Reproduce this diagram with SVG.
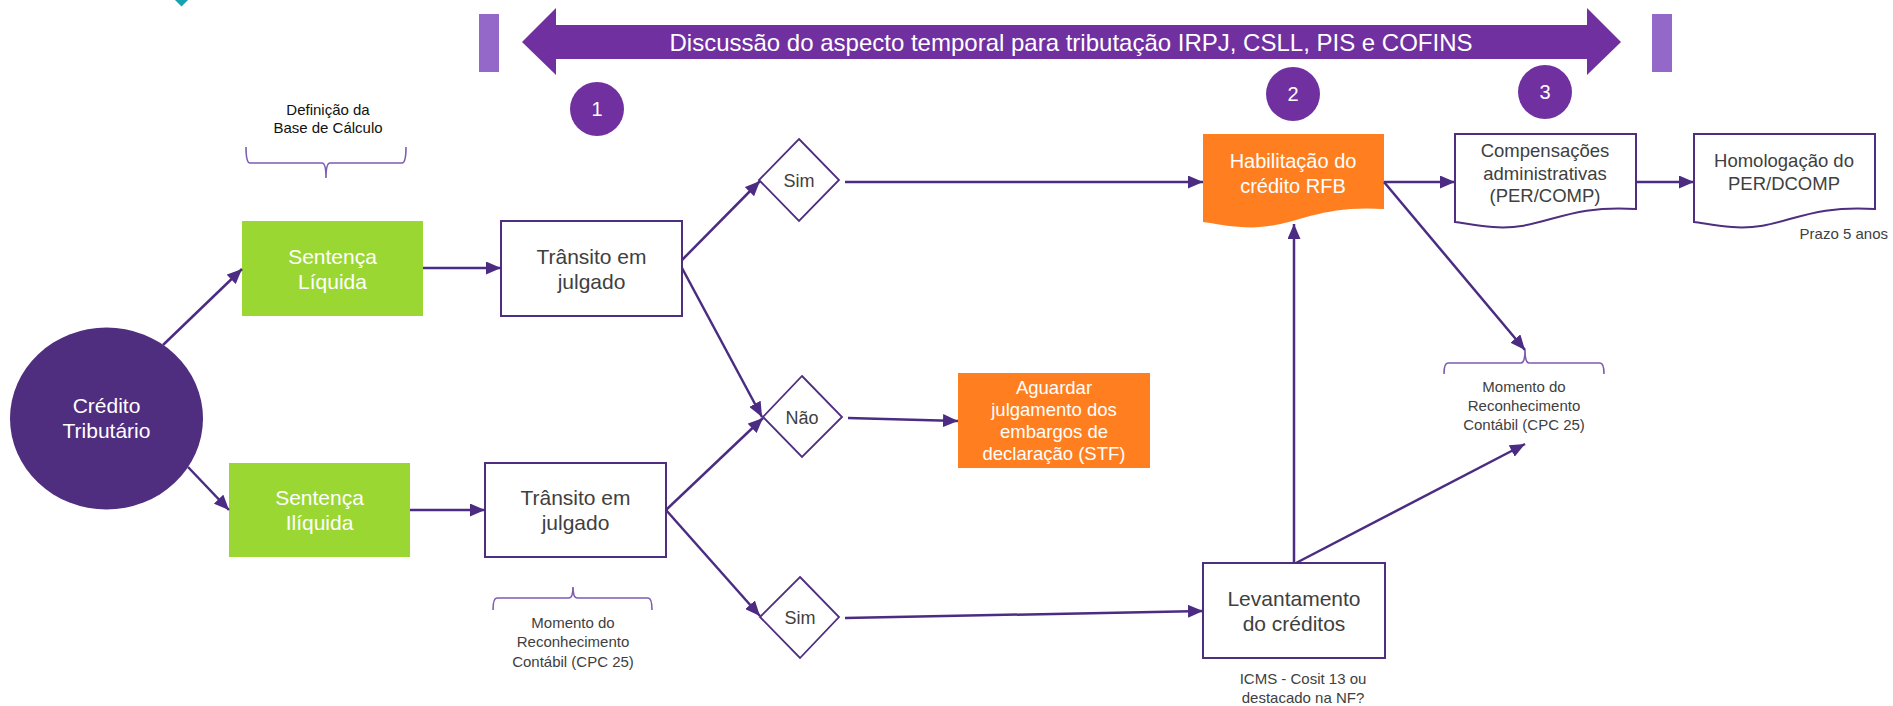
<svg xmlns="http://www.w3.org/2000/svg" width="1893" height="706" viewBox="0 0 1893 706">
<style>
text{font-family:"Liberation Sans",Arial,sans-serif;text-anchor:middle}
.w{fill:#ffffff}
.g{fill:#404040}
.k{fill:#111111}
.box{fill:#ffffff;stroke:#4F2D7F;stroke-width:2}
.dia{fill:#ffffff;stroke:#4F2D7F;stroke-width:1.8}
.green{fill:#9BD733}
.orange{fill:#FF7F20}
.num{fill:#7030A0}
.bar{fill:#9368C8}
.brace{fill:none;stroke:#7E5BB0;stroke-width:1.6}
.con{fill:none;stroke:#4B2C82;stroke-width:2.5;marker-end:url(#ah)}
.f21{font-size:21px}
.f20{font-size:20px}
.f185{font-size:18.5px}
.f18{font-size:18px}
.f15{font-size:15px}
</style>
<defs>
<marker id="ah" markerUnits="userSpaceOnUse" markerWidth="15" markerHeight="13" refX="15" refY="6.5" orient="auto">
<path d="M0,0 L15,6.5 L0,13 Z" fill="#4B2C82"/>
</marker>
<path id="doc" d="M0,0 H181 V75 C108,70 88,97 38,93 C21,92 9,89 0,88 Z"/>
</defs>
<rect width="1893" height="706" fill="#ffffff"/>

<polygon points="175,0 188,0 181.5,6.5" fill="#17A2AE"/>

<g id="timeline">
<rect class="bar" x="479" y="14" width="20" height="58"/>
<rect class="bar" x="1652" y="14" width="20" height="58"/>
<polygon fill="#7030A0" points="522,42 556,8 556,25 1587,25 1587,8 1621,42 1587,75 1587,59 556,59 556,75"/>
<text class="w" x="1071" y="51" style="font-size:24px">Discussão do aspecto temporal para tributação IRPJ, CSLL, PIS e COFINS</text>
</g>

<g id="n1"><circle class="num" cx="597" cy="109" r="27"/><text class="w f20" x="597" y="116">1</text></g>
<g id="n2"><circle class="num" cx="1293" cy="94" r="27"/><text class="w f20" x="1293" y="101">2</text></g>
<g id="n3"><circle class="num" cx="1545" cy="92" r="27"/><text class="w f20" x="1545" y="99">3</text></g>

<g id="definicao">
<text class="k f15" x="328" y="115">Definição da</text>
<text class="k f15" x="328" y="133">Base de Cálculo</text>
<path class="brace" d="M246,147 Q246,163 250,163 H322 Q326,163 326,178 Q326,163 330,163 H402 Q406,163 406,147"/>
</g>

<g id="credito">
<ellipse cx="106.5" cy="418.5" rx="96.5" ry="91" fill="#4F2D7F"/>
<text class="w f21" x="106.5" y="413">Crédito</text>
<text class="w f21" x="106.5" y="438">Tributário</text>
</g>

<g id="sentenca-liquida">
<rect class="green" x="242" y="221" width="181" height="95"/>
<text class="w f21" x="332.5" y="264">Sentença</text>
<text class="w f21" x="332.5" y="289">Líquida</text>
</g>

<g id="sentenca-iliquida">
<rect class="green" x="229" y="463" width="181" height="94"/>
<text class="w f21" x="319.5" y="505">Sentença</text>
<text class="w f21" x="319.5" y="530">Ilíquida</text>
</g>

<g id="transito1">
<rect class="box" x="501" y="221" width="181" height="95"/>
<text class="g f21" x="591.5" y="263.5">Trânsito em</text>
<text class="g f21" x="591.5" y="288.5">julgado</text>
</g>

<g id="transito2">
<rect class="box" x="485" y="463" width="181" height="94"/>
<text class="g f21" x="575.5" y="505">Trânsito em</text>
<text class="g f21" x="575.5" y="530">julgado</text>
</g>

<g id="momento1">
<path class="brace" d="M493,610 Q493,598 497,598 H569 Q573,598 573,587 Q573,598 577,598 H648 Q652,598 652,610"/>
<text class="g f15" x="573" y="628">Momento do</text>
<text class="g f15" x="573" y="647">Reconhecimento</text>
<text class="g f15" x="573" y="667">Contábil (CPC 25)</text>
</g>

<g id="sim1">
<polygon class="dia" points="799,139 839,180 799,221 759,180"/>
<text class="g f18" x="799" y="187">Sim</text>
</g>

<g id="nao">
<polygon class="dia" points="802,376 842,417 802,457 763,417"/>
<text class="g f18" x="802" y="424">Não</text>
</g>

<g id="sim2">
<polygon class="dia" points="800,577 839,617 800,658 760,617"/>
<text class="g f18" x="800" y="624">Sim</text>
</g>

<g id="aguardar">
<rect class="orange" x="958" y="373" width="192" height="95"/>
<text class="w f185" x="1054" y="394">Aguardar</text>
<text class="w f185" x="1054" y="416">julgamento dos</text>
<text class="w f185" x="1054" y="438">embargos de</text>
<text class="w f185" x="1054" y="460">declaração (STF)</text>
</g>

<g id="habilitacao">
<use href="#doc" transform="translate(1203,134)" fill="#FF7F20"/>
<text class="w f20" x="1293" y="168">Habilitação do</text>
<text class="w f20" x="1293" y="193">crédito RFB</text>
</g>

<g id="compensacoes">
<use href="#doc" transform="translate(1455,134)" fill="#ffffff" stroke="#4F2D7F" stroke-width="2"/>
<text class="g f185" x="1545" y="157">Compensações</text>
<text class="g f185" x="1545" y="180">administrativas</text>
<text class="g f185" x="1545" y="202">(PER/COMP)</text>
</g>

<g id="homologacao">
<use href="#doc" transform="translate(1694,134)" fill="#ffffff" stroke="#4F2D7F" stroke-width="2"/>
<text class="g f185" x="1784" y="167">Homologação do</text>
<text class="g f185" x="1784" y="190">PER/DCOMP</text>
<text class="g f15" x="1888" y="239" style="text-anchor:end">Prazo 5 anos</text>
</g>

<g id="momento2">
<path class="brace" d="M1444,374 Q1444,363 1448,363 H1521 Q1525,363 1525,350 Q1525,363 1529,363 H1600 Q1604,363 1604,374"/>
<text class="g f15" x="1524" y="392">Momento do</text>
<text class="g f15" x="1524" y="411">Reconhecimento</text>
<text class="g f15" x="1524" y="430">Contábil (CPC 25)</text>
</g>

<g id="levantamento">
<rect class="box" x="1203" y="563" width="182" height="95"/>
<text class="g f21" x="1294" y="606">Levantamento</text>
<text class="g f21" x="1294" y="631">do créditos</text>
<text class="g f15" x="1303" y="684">ICMS - Cosit 13 ou</text>
<text class="g f15" x="1303" y="703">destacado na NF?</text>
</g>

<g id="connectors">
<path class="con" d="M163,345 L242,269"/>
<path class="con" d="M188,467 L229,510"/>
<path class="con" d="M423,268 L501,268"/>
<path class="con" d="M410,510 L485,510"/>
<path class="con" d="M682,260 L760,181"/>
<path class="con" d="M682,268 L762,417"/>
<path class="con" d="M666,510 L763,418"/>
<path class="con" d="M666,510 L760,616"/>
<path class="con" d="M845,182 L1203,182"/>
<path class="con" d="M848,418 L958,421"/>
<path class="con" d="M845,618 L1203,611"/>
<path class="con" d="M1384,182 L1455,182"/>
<path class="con" d="M1636,182 L1694,182"/>
<path class="con" d="M1384,182 L1525,350"/>
<path class="con" d="M1294,563 L1294,224"/>
<path class="con" d="M1296,563 L1525,444"/>
</g>
</svg>
